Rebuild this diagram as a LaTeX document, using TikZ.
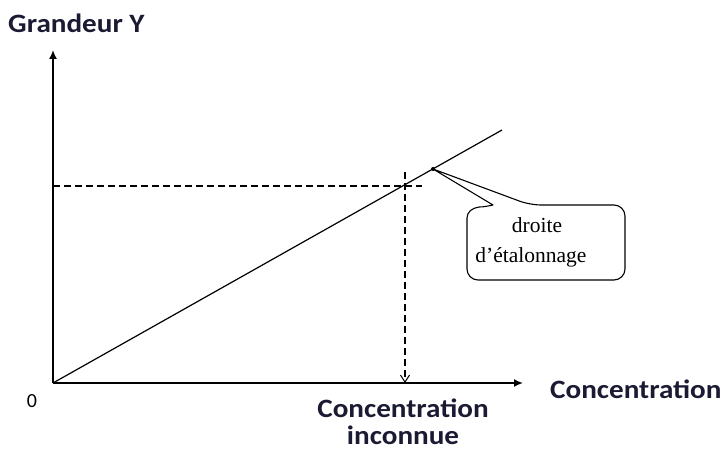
\documentclass[tikz,border=0pt]{standalone}
\usepackage{fontspec}
\setmainfont{Liberation Serif}
\newfontfamily\calib[FakeStretch=1.1]{Carlito}
\newfontfamily\calibn{Carlito}
\usetikzlibrary{arrows.meta}
\definecolor{lbl}{HTML}{1A1A33}
\tikzset{
  axis/.style={line width=1.6pt,-{Latex[length=9pt,width=8pt]}},
  guide/.style={line width=1.1pt,dash pattern=on 7pt off 4pt},
  biglbl/.style={font=\calib\bfseries\fontsize{26.5}{30}\selectfont,text=lbl,inner sep=0pt},
  serif/.style={font=\fontsize{21.5}{24}\selectfont,inner sep=0pt}
}
\begin{document}
\begin{tikzpicture}[x=1pt,y=-1pt]
\useasboundingbox (0,0) rectangle (723,452);
\coordinate (O) at (53,383);
\coordinate (Ytop) at (53,50);
\coordinate (Xend) at (523,383);
\coordinate (Lend) at (502,130);
\coordinate (Hstart) at (53,186);
\coordinate (Hend) at (422,186);
\coordinate (Vstart) at (405,172);
\coordinate (Vend) at (405,383);
\coordinate (A) at (433,169);
\draw[axis] (O) -- (Ytop);
\draw[axis] (O) -- (Xend);
\draw[line width=1.2pt] (O) -- (Lend);
\draw[guide] (Hstart) -- (Hend);
\draw[guide,-{Straight Barb[length=7pt,width=9pt,line width=1pt]}] (Vstart) -- (Vend);
\fill (A) circle (2pt);
% callout
\draw[line width=1.1pt,line join=round]
  (467,230) [rounded corners=11pt] -- (467,280) -- (625,280) -- (625,205) -- (530,205)
  [sharp corners] -- (A) -- (493,205)
  .. controls (488,206) and (484,207) .. (479,207)
  .. controls (472,208) and (467,212) .. (467,218) -- cycle;
\node[serif,anchor=base] (t1) at (537,232) {droite};
\node[serif,anchor=base] (t2) at (531,262) {d’étalonnage};
\node[biglbl,anchor=base west] (gy) at (8,33) {Grandeur Y};
\node[biglbl,anchor=base west] (cx) at (550,398) {Concentration};
\node[biglbl,anchor=base] (ci1) at (403,417) {Concentration};
\node[biglbl,anchor=base] (ci2) at (403,444) {inconnue};
\node[font=\calibn\fontsize{20}{22}\selectfont,anchor=base,inner sep=0pt] (zero) at (32,407) {0};
\end{tikzpicture}
\end{document}
